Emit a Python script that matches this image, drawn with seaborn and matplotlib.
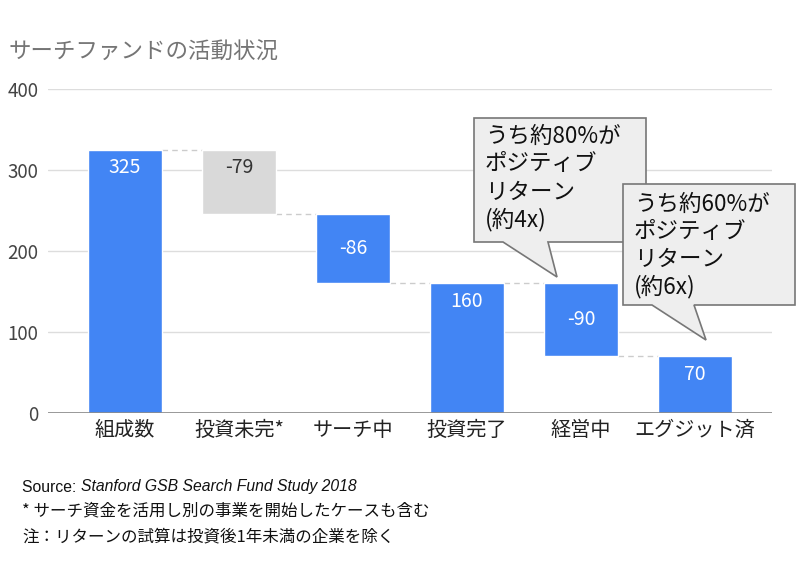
import matplotlib
matplotlib.use("Agg")
import matplotlib.pyplot as plt
import seaborn as sns
import numpy as np
from matplotlib.patches import Polygon

sns.set_theme(style="white")
plt.rcParams['font.family'] = ['Noto Sans CJK JP', 'DejaVu Sans']

categories = ["組成数", "投資未完*", "サーチ中", "投資完了", "経営中", "エグジット済"]
values = [325, -79, -86, 160, -90, 70]
bottoms = [0, 246, 160, 0, 70, 0]
bar_labels = ["325", "-79", "-86", "160", "-90", "70"]
bar_colors = ["#4285f4", "#d9d9d9", "#4285f4", "#4285f4", "#4285f4", "#4285f4"]
label_colors = ["white", "#333333", "white", "white", "white", "white"]
yticks = [0, 100, 200, 300, 400]
callout1 = ["うち約80%が", "ポジティブ", "リターン", "(約4x)"]
callout2 = ["うち約60%が", "ポジティブ", "リターン", "(約6x)"]
title = "サーチファンドの活動状況"
source_plain = "Source: "
source_italic = "Stanford GSB Search Fund Study 2018"
notes = ["* サーチ資金を活用し別の事業を開始したケースも含む",
         "注：リターンの試算は投資後1年未満の企業を除く"]

W, H = 800, 576
fig = plt.figure(figsize=(8, 5.76), dpi=100)
def fx(px): return px / W
def fy(py): return 1 - py / H

ax = fig.add_axes([fx(48), fy(413), fx(772) - fx(48), fy(89) - fy(413)])

heights = [abs(v) for v in values]
tops = [b + h for b, h in zip(bottoms, heights)]
sns.barplot(x=categories, y=tops, hue=categories,
            palette=bar_colors, legend=False, width=0.65, ax=ax,
            saturation=1, zorder=2)
for patch, b, t in zip(ax.patches, bottoms, tops):
    patch.set_y(b)
    patch.set_height(t - b)

ax.set_ylim(0, 400)
ax.set_xlim(-0.675, 5.675)
ax.set_yticks(yticks)
ax.set_yticklabels([str(t) for t in yticks], fontsize=13.5, color="#444444")
ax.tick_params(axis='x', labelsize=14.5, colors="#222222", length=0, pad=5)
ax.tick_params(axis='y', length=0, pad=7)
for t in yticks[1:]:
    ax.axhline(t, color="#dddddd", lw=1, zorder=0)
ax.axhline(0, color="#888888", lw=1.2, zorder=3)
for s in ax.spines.values():
    s.set_visible(False)
ax.set_xlabel("")
ax.set_ylabel("")

# connectors between consecutive bars
conn = [325, 246, 160, 160, 70]
for i, lv in enumerate(conn):
    ax.plot([i + 0.325, i + 1 - 0.325], [lv, lv], color="#cccccc", lw=1,
            ls=(0, (4, 3)), zorder=1)

# bar labels
for i, (lab, b, h, c) in enumerate(zip(bar_labels, bottoms, heights, label_colors)):
    if values[i] < 0 and bar_colors[i] == "#4285f4":
        ax.text(i, b + h / 2, lab, ha='center', va='center', color=c, fontsize=14)
    else:
        ax.annotate(lab, (i, b + h), xytext=(0, -13), textcoords='offset points',
                    ha='center', va='center', color=c, fontsize=14)

# title
fig.text(fx(9), fy(52), title, fontsize=16.2, color="#757575", va='center', ha='left')

# callouts
def callout(box, tail, lines, x0, y0, dy):
    l, t, r, b = box
    t1, t2, px, py = tail
    pts = [(l, t), (r, t), (r, b), (t2, b), (px, py), (t1, b), (l, b)]
    poly = Polygon([(fx(x), fy(y)) for x, y in pts], closed=True,
                   transform=fig.transFigure, facecolor="#eeeeee",
                   edgecolor="#777777", lw=1.2, zorder=10)
    fig.patches.append(poly)
    for k, line in enumerate(lines):
        fig.text(fx(x0), fy(y0 + k * dy), line, fontsize=16.2, color="#111111",
                 va='center', ha='left', zorder=11)

callout((474, 118, 646, 242), (503, 548, 557, 277), callout1, 485, 136, 28)
callout((623, 184, 795, 305), (652, 694, 706, 340), callout2, 634, 204, 27.5)

# footnotes
fs = 11.9
fs_src = 11.3
t1 = fig.text(fx(22), fy(487), source_plain, fontsize=fs_src, color="#111111", va='center',
              family=['Liberation Sans', 'DejaVu Sans'])
fig.canvas.draw()
bb = t1.get_window_extent()
fig.text(bb.x1 / W, fy(487), source_italic, fontsize=fs_src,
         color="#111111", va='center', style='italic',
         family=['Liberation Sans', 'DejaVu Sans'])
for k, n in enumerate(notes):
    fig.text(fx(22), fy(511 + k * 26), n, fontsize=fs, color="#111111", va='center')

fig.savefig("out.png", dpi=100)
